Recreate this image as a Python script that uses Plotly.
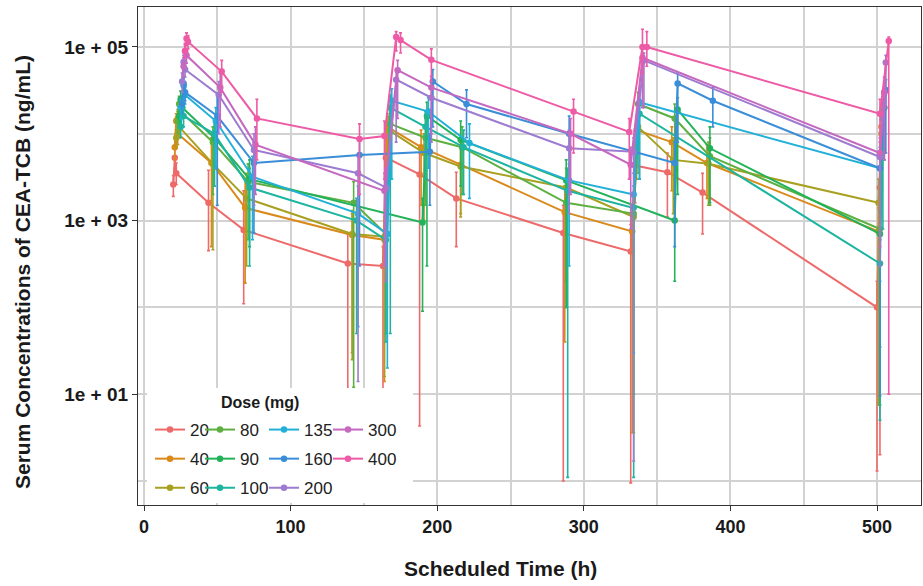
import plotly.graph_objects as go

# ---------------- data ----------------
doses = ["20", "40", "60", "80", "90", "100", "135", "160", "200", "300", "400"]
colors = ["#EE6A6A", "#D98A1A", "#A8A020", "#5DB040", "#22B35A", "#1DB5A0",
          "#22B0D8", "#3A8ED8", "#9C7BD0", "#C468C0", "#EE5AA5"]

t_20 = [20, 21, 22, 44, 68, 139, 163, 165, 188, 213, 286, 332, 335, 357, 381, 500, 502]
c_20 = [2600, 5300, 3500, 1600, 780, 320, 300, 5300, 3400, 1800, 720, 440, 4300, 3600, 2100, 100, 2400]
lo_20 = [1900, 4000, 2600, 450, 110, 11, 9, 2200, 4.3, 500, 1.0, 0.95, 1600, 1100, 700, 1.3, 2.0]
hi_20 = [3300, 6800, 4600, 3800, 2200, 700, 500, 8500, 6000, 3600, 1500, 900, 7500, 6000, 3500, 200, 4200]

t_40 = [21, 22, 23, 46, 69, 142, 164, 166, 189, 216, 287, 333, 336, 360, 384, 501, 503]
c_40 = [7000, 14000, 10000, 4600, 1400, 680, 600, 12000, 7000, 4400, 1250, 750, 11000, 8000, 4600, 750, 12000]
lo_40 = [5000, 10000, 7500, 500, 190, 30, 14, 5000, 1500, 1200, 40, 3.6, 3000, 2200, 1800, 8, 4000]
hi_40 = [9000, 17000, 13000, 9000, 3000, 1200, 1000, 17000, 11000, 8000, 2500, 1400, 16000, 12000, 7500, 1400, 16000]

t_60 = [22, 23, 24, 47, 70, 142, 164, 167, 191, 216, 288, 334, 337, 361, 385, 501, 503]
c_60 = [9000, 15000, 12000, 4500, 1800, 700, 650, 11000, 6000, 4200, 2400, 1100, 12000, 5000, 4500, 1600, 10000]
lo_60 = [7000, 11000, 9000, 460, 300, 25, 16, 4000, 1000, 1100, 100, 3.6, 3500, 1200, 1500, 7.5, 3000]
hi_60 = [11000, 19000, 15000, 8000, 3500, 1300, 1100, 16000, 10000, 8000, 4000, 2000, 17000, 9000, 8000, 3000, 14000]

t_80 = [23, 24, 25, 47, 71, 143, 165, 168, 192, 217, 288, 334, 337, 362, 386, 502, 504]
c_80 = [14000, 22000, 18000, 8000, 2800, 1600, 700, 13000, 9000, 7000, 1600, 1200, 22000, 15000, 5500, 800, 18000]
lo_80 = [10000, 17000, 14000, 2000, 600, 12, 50, 3000, 1500, 2000, 200, 10, 6000, 3000, 1500, 35, 5000]
hi_80 = [18000, 27000, 22000, 12000, 4500, 2800, 1200, 20000, 15000, 12000, 2800, 2000, 30000, 22000, 9000, 1500, 25000]

t_90 = [24, 25, 26, 48, 72, 190, 193, 216, 288, 362, 364, 386, 502, 505]
c_90 = [16000, 25000, 20000, 9000, 3000, 950, 16000, 8500, 2900, 1000, 19000, 6800, 700, 20000]
lo_90 = [12000, 19000, 15000, 2500, 500, 90, 300, 2500, 100, 200, 2000, 1600, 7.5, 6000]
hi_90 = [20000, 31000, 25000, 14000, 5000, 1800, 23000, 14000, 5000, 1800, 26000, 12000, 1300, 28000]

t_100 = [25, 26, 27, 48, 72, 145, 165, 168, 192, 218, 289, 334, 338, 502, 504]
c_100 = [12000, 20000, 16000, 10000, 2400, 1000, 600, 20000, 12000, 7000, 2200, 1400, 17000, 320, 15000]
lo_100 = [9000, 15000, 12000, 2500, 300, 50, 40, 50, 3000, 2000, 1.1, 1.1, 3000, 5, 800]
hi_100 = [15000, 25000, 20000, 15000, 4000, 1800, 1000, 28000, 18000, 11000, 4000, 2500, 25000, 600, 22000]

t_135 = [25, 27, 28, 49, 74, 146, 166, 169, 194, 222, 290, 334, 338, 502, 505]
c_135 = [20000, 36000, 28000, 14000, 3200, 1200, 700, 24000, 18000, 7800, 2900, 2000, 23000, 4000, 30000]
lo_135 = [15000, 28000, 22000, 4000, 600, 60, 20, 3000, 4000, 1800, 300, 30, 3000, 200, 5000]
hi_135 = [25000, 44000, 34000, 20000, 5500, 2500, 1200, 33000, 26000, 13000, 4500, 3500, 31000, 6500, 40000]

t_160 = [26, 27, 28, 50, 75, 147, 195, 197, 220, 290, 362, 364, 388, 502, 506]
c_160 = [22000, 38000, 30000, 16000, 4600, 5700, 6200, 40000, 22000, 10000, 4600, 38000, 24000, 4000, 32000]
lo_160 = [17000, 30000, 24000, 1500, 720, 300, 1500, 12000, 9000, 2000, 500, 8000, 12000, 9.6, 6000]
hi_160 = [27000, 46000, 36000, 28000, 8000, 9000, 10000, 55000, 32000, 16000, 8000, 50000, 34000, 7000, 42000]

t_200 = [26, 27, 28, 51, 75, 146, 165, 172, 196, 290, 334, 341, 502, 506]
c_200 = [40000, 67000, 55000, 28000, 6500, 3500, 2400, 42000, 26000, 6800, 6200, 70000, 5400, 66000]
lo_200 = [30000, 55000, 45000, 10000, 1500, 14, 200, 8000, 8000, 1200, 1.7, 20000, 300, 20000]
hi_200 = [50000, 80000, 66000, 40000, 10000, 5500, 4000, 55000, 36000, 11000, 9000, 85000, 8000, 80000]

t_300 = [27, 28, 29, 52, 76, 164, 173, 196, 291, 332, 340, 502, 505]
c_300 = [60000, 90000, 80000, 34000, 7500, 2200, 54000, 34000, 10000, 4400, 75000, 6000, 30000]
lo_300 = [45000, 75000, 65000, 12000, 2000, 300, 15000, 10000, 2000, 800, 20000, 500, 5000]
hi_300 = [75000, 105000, 95000, 50000, 12000, 3500, 70000, 46000, 15000, 7000, 95000, 9000, 45000]

t_400 = [28, 29, 30, 53, 77, 147, 164, 172, 175, 196, 293, 331, 340, 343, 502, 508]
c_400 = [90000, 125000, 115000, 52000, 15000, 8700, 9400, 130000, 120000, 71000, 18000, 10500, 100000, 100000, 17000, 117000]
lo_400 = [75000, 105000, 95000, 30000, 5000, 2000, 3000, 90000, 85000, 40000, 6000, 3000, 50000, 60000, 6000, 10]
hi_400 = [110000, 145000, 135000, 70000, 25000, 13000, 14000, 150000, 145000, 95000, 25000, 15000, 160000, 150000, 25000, 130000]

y_tick_vals = [10, 1000, 100000]
y_tick_text = ["1e + 01", "1e + 03", "1e + 05"]
y_minor_vals = [1, 100, 10000]
x_tick_vals = [0, 100, 200, 300, 400, 500]
x_minor_vals = [50, 150, 250, 350, 450]

series = {
    "20": (t_20, c_20, lo_20, hi_20), "40": (t_40, c_40, lo_40, hi_40),
    "60": (t_60, c_60, lo_60, hi_60), "80": (t_80, c_80, lo_80, hi_80),
    "90": (t_90, c_90, lo_90, hi_90), "100": (t_100, c_100, lo_100, hi_100),
    "135": (t_135, c_135, lo_135, hi_135), "160": (t_160, c_160, lo_160, hi_160),
    "200": (t_200, c_200, lo_200, hi_200), "300": (t_300, c_300, lo_300, hi_300),
    "400": (t_400, c_400, lo_400, hi_400),
}
legend_of = {"20": "legend", "40": "legend", "60": "legend",
             "80": "legend2", "90": "legend2", "100": "legend2",
             "135": "legend3", "160": "legend3", "200": "legend3",
             "300": "legend4", "400": "legend4"}

# ---------------- figure ----------------
fig = go.Figure()
for d, col in zip(doses, colors):
    t, c, lo, hi = series[d]
    fig.add_trace(go.Scatter(
        x=t, y=c, mode="lines+markers", name=d, legendgroup=d,
        legend=legend_of[d],
        line=dict(color=col, width=2),
        marker=dict(color=col, size=6.5),
        error_y=dict(type="data", symmetric=False,
                     array=[h - v for h, v in zip(hi, c)],
                     arrayminus=[v - l for v, l in zip(c, lo)],
                     color=col, thickness=1.6, width=1.5),
    ))

W, H = 923, 586
ML, MR, MT, MB = 138, 2, 7, 81
pw, ph = W - ML - MR, H - MT - MB

def px2x(p):
    return (p - ML) / pw

def py2y(p):
    return (H - MB - p) / ph

font_family = "Liberation Sans, Arial, sans-serif"
fig.update_layout(
    width=W, height=H,
    margin=dict(l=ML, r=MR, t=MT, b=MB),
    paper_bgcolor="white", plot_bgcolor="white",
    font=dict(family=font_family, color="#1a1a1a"),
    showlegend=True,
)
fig.update_xaxes(
    range=[-4.1, 530], tickvals=x_tick_vals, ticks="outside", ticklen=5,
    tickcolor="#333", tickwidth=1,
    tickfont=dict(size=18, weight="bold", color="#1a1a1a"),
    showgrid=True, gridcolor="#d2d2d2", gridwidth=1.6,
    minor=dict(tickvals=x_minor_vals, showgrid=True, gridcolor="#d2d2d2",
               gridwidth=1.6, ticks=""),
    showline=True, linecolor="#333", linewidth=1.2, mirror=True, zeroline=False,
)
fig.update_yaxes(
    type="log", range=[-0.277, 5.46], tickvals=y_tick_vals, ticktext=y_tick_text,
    ticks="outside", ticklen=5, tickcolor="#333", tickwidth=1,
    tickfont=dict(size=19, weight="bold", color="#1a1a1a"),
    showgrid=True, gridcolor="#d2d2d2", gridwidth=1.6,
    minor=dict(tickvals=y_minor_vals, showgrid=True, gridcolor="#d2d2d2",
               gridwidth=1.6, ticks=""),
    showline=True, linecolor="#333", linewidth=1.2, mirror=True, zeroline=False,
)

# axis titles
fig.add_annotation(text="<b>Scheduled Time (h)</b>", xref="paper", yref="paper",
                   x=px2x(500), y=py2y(568), xanchor="center", yanchor="middle",
                   showarrow=False, font=dict(size=21, family=font_family, color="#1a1a1a"))
fig.add_annotation(text="<b>Serum Concentrations of CEA-TCB (ng/mL)</b>",
                   xref="paper", yref="paper", textangle=-90,
                   x=px2x(22), y=py2y(272), xanchor="center", yanchor="middle",
                   showarrow=False, font=dict(size=21, family=font_family, color="#1a1a1a"))

# white box behind the legend
fig.add_shape(type="rect", xref="paper", yref="paper",
              x0=px2x(147), x1=px2x(413), y0=py2y(503), y1=py2y(388),
              fillcolor="white", line=dict(width=0), layer="above")
fig.add_annotation(text="<b>Dose (mg)</b>", xref="paper", yref="paper",
                   x=px2x(260), y=py2y(402), xanchor="center", yanchor="middle",
                   showarrow=False,
                   font=dict(size=16, family=font_family, color="#1a1a1a"))

leg_common = dict(xanchor="left", yanchor="top", bgcolor="rgba(0,0,0,0)",
                  font=dict(size=17, family=font_family, color="#222"),
                  tracegroupgap=4, itemwidth=30, orientation="v")
legx = [150, 200, 264, 328]
names = ["legend", "legend2", "legend3", "legend4"]
for nm, lx in zip(names, legx):
    fig.update_layout({nm: dict(x=px2x(lx), y=py2y(412), **leg_common)})

fig.write_html("out.html")
